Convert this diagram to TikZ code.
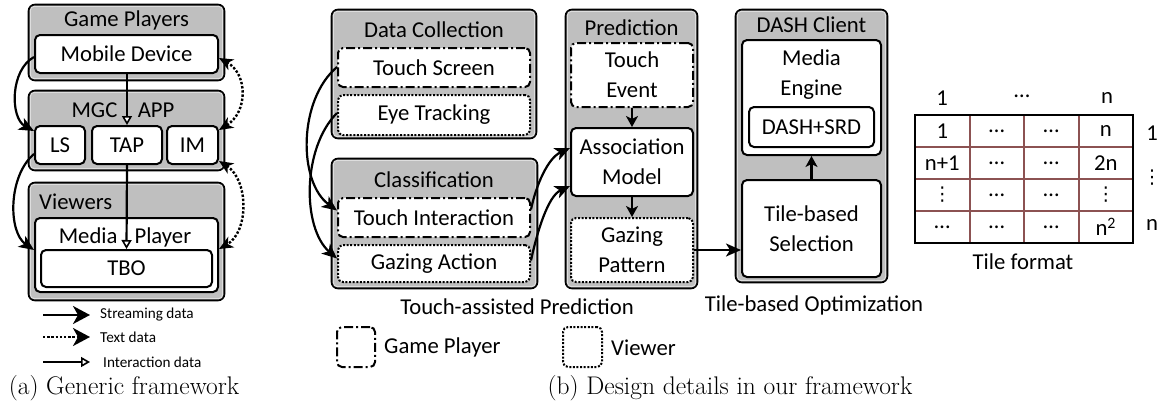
\documentclass[tikz,border=0pt]{standalone}
\usepackage{fontspec}
\newfontfamily\calfont{Carlito}
\newfontfamily\dotsfont{DejaVu Sans}
\usetikzlibrary{arrows.meta,calc}
\definecolor{boxgray}{RGB}{191,191,191}
\definecolor{rimgray}{RGB}{222,222,222}
\definecolor{gridbrown}{RGB}{140,82,82}
\newcommand{\figlbl}{\calfont\fontsize{22.7}{30}\selectfont}
\newcommand{\legfont}{\calfont\fontsize{15.2}{18}\selectfont}
\newcommand{\capfont}{\rmfamily\fontsize{25.5}{30}\selectfont}
\newcommand{\vdotchar}{{\dotsfont\fontsize{19}{20}\selectfont ⋮}}
\begin{document}
\begin{tikzpicture}[x=1pt,y=-1pt,
  outerbox/.style={draw, line width=2.6pt, rounded corners=6pt, fill=boxgray, inner sep=0pt},
  innerbox/.style={draw, line width=2pt, rounded corners=5pt, fill=white, inner sep=0pt, align=center, font=\figlbl},
  gpbox/.style={innerbox, dash pattern=on 9pt off 3pt on 2pt off 3pt},
  vwbox/.style={innerbox, dash pattern=on 2pt off 1.6pt},
  title/.style={inner sep=0pt, font=\figlbl, align=center},
  rim/.style={rimgray, line width=1.2pt, rounded corners=4pt},
  conn/.style={line width=2.2pt},
  stream/.style={conn, -{Stealth[length=15pt,width=13pt,inset=4pt]}},
  small/.style={conn, -{Stealth[length=11pt,width=12pt,inset=3pt]}},
  textarr/.style={line width=2.4pt, dash pattern=on 2.4pt off 1.8pt,
    {Stealth[length=14pt,width=12pt,inset=4pt]}-{Stealth[length=14pt,width=12pt,inset=4pt]}},
  interact/.style={conn, -{Triangle[length=9pt,width=10pt,fill=white,line width=1.6pt]}},
  leghead/.style={-{Stealth[length=17pt,width=18pt,inset=5pt]}},
]
\useasboundingbox (0,0) rectangle (1162,410);

% ---------------- (a) generic framework ----------------
\node[outerbox, minimum width=195pt, minimum height=75pt] (gpBox) at (126.5,42.5) {};
\node[outerbox, minimum width=195pt, minimum height=79pt] (mgcBox) at (126.5,130.5) {};
\node[outerbox, minimum width=195pt, minimum height=117pt] (vwBox) at (126.5,241.5) {};
% ---------------- (b) group boxes ----------------
\node[outerbox, minimum width=204pt, minimum height=128pt] (dcBox) at (434,74) {};
\node[outerbox, minimum width=205pt, minimum height=129pt] (clBox) at (434.5,223.5) {};
\node[outerbox, minimum width=131pt, minimum height=278pt] (predBox) at (631.5,149) {};
\node[outerbox, minimum width=151pt, minimum height=272pt] (dashBox) at (811.5,146) {};
% light rim just inside every group border
\foreach \b in {gpBox,mgcBox,vwBox,dcBox,clBox,predBox,dashBox}
  \draw[rim] ($(\b.north west)+(2.6,2.6)$) rectangle ($(\b.south east)+(-2.6,-2.6)$);

\node[title] (gpTitle) at (126.5,20) {Game Players};
\node[innerbox, minimum width=183pt, minimum height=38pt] (mobile) at (126.5,54) {Mobile Device};

\node[title] (mgcTitle) at (123,110) {MGC\hspace{0.9em}APP};
\node[innerbox, minimum width=50pt, minimum height=38pt] (LS) at (60,145) {LS};
\node[innerbox, minimum width=70pt, minimum height=38pt] (TAP) at (127,145) {TAP};
\node[innerbox, minimum width=51pt, minimum height=38pt] (IM) at (192.5,145) {IM};

\node[title, anchor=west] (vwTitle) at (39,202) {Viewers};
\node[innerbox, minimum width=183pt, minimum height=74pt] (mediaPlayer) at (126.5,255) {};
\node[title] (mpTitle) at (125,237) {Media\hspace{0.75em}Player};
\node[innerbox, minimum width=171pt, minimum height=37pt] (TBO) at (126.5,268.5) {TBO};

\draw[interact] (mobile.south -| TAP.north) -- (TAP.north);
\draw[interact] (TAP.south) -- (TBO.north);
\draw[stream] ($(mobile.west)+(0,3)$) .. controls (10,70) and (10,118) .. ($(LS.west)+(0,-14)$);
\draw[stream] ($(LS.west)+(0,9)$) .. controls (8,176) and (8,232) .. ($(mediaPlayer.west)+(0,-5)$);
\draw[textarr] ($(IM.east)+(0,-15)$) .. controls (248,112) and (248,74) .. ($(mobile.east)+(0,4)$);
\draw[textarr] ($(IM.east)+(0,16)$) .. controls (249,180) and (249,232) .. ($(mediaPlayer.east)+(0,-6)$);

% legend of (a)
\coordinate (la1) at (43,315); \coordinate (lb1) at (90,315);
\coordinate (la2) at (43,337); \coordinate (lb2) at (90,337);
\coordinate (la3) at (43,362); \coordinate (lb3) at (90,362);
\draw[conn, leghead] (la1) -- (lb1);
\draw[line width=2.4pt, dash pattern=on 2.4pt off 1.8pt, leghead] (la2) -- (lb2);
\draw[interact] (la3) -- (lb3);
\node[anchor=west, inner sep=0pt, font=\legfont] (lt1) at (100,315) {Streaming data};
\node[anchor=west, inner sep=0pt, font=\legfont] (lt2) at (100,337) {Text data};
\node[anchor=west, inner sep=0pt, font=\legfont] (lt3) at (103,362) {Interaction data};

\node[inner sep=0pt, font=\capfont] (capA) at (124,388) {(a) Generic framework};

% ---------------- (b) design details ----------------
\node[title] (dcTitle) at (434,30) {Data Collection};
\node[gpbox, minimum width=192pt, minimum height=39pt] (touchScreen) at (434,67.5) {Touch Screen};
\node[vwbox, minimum width=192pt, minimum height=40pt] (eyeTracking) at (434,115) {Eye Tracking};

\node[title] (clTitle) at (434,180) {Classification};
\node[gpbox, minimum width=192pt, minimum height=39pt] (touchInter) at (434,217.5) {Touch Interaction};
\node[vwbox, minimum width=192pt, minimum height=37pt] (gazingAction) at (434,263.5) {Gazing Action};

\node[title] (predTitle) at (631.5,28) {Prediction};
\node[gpbox, minimum width=122pt, minimum height=64pt] (touchEvent) at (632,75) {Touch\\Event};
\node[innerbox, minimum width=122pt, minimum height=68pt] (assoc) at (632,162) {Association\\Model};
\node[vwbox, minimum width=122pt, minimum height=64pt] (gazPattern) at (632,250) {Gazing\\Pattern};

\node[title] (dashTitle) at (811.5,25) {DASH Client};
\node[innerbox, minimum width=139pt, minimum height=115pt] (mediaEngine) at (811.5,97.5) {};
\node[title] (meTitle) at (811.5,74.5) {Media\\Engine};
\node[innerbox, minimum width=125pt, minimum height=40pt] (dashSrd) at (811.5,127) {DASH+SRD};
\node[innerbox, minimum width=139pt, minimum height=97pt] (tileSel) at (811.5,228.5) {Tile-based\\Selection};

\draw[small] (touchEvent.south) -- (assoc.north);
\draw[small] (assoc.south) -- (gazPattern.north);
\draw[small] (tileSel.north) -- (mediaEngine.south);
\draw[stream] (gazPattern.east) -- (gazPattern.east -| tileSel.west);

\draw[stream] ($(touchScreen.west)+(0,-0.5)$) .. controls (298,100) and (298,182) .. ($(touchInter.west)+(0,-7)$);
\draw[stream] ($(eyeTracking.west)+(0,-2)$) .. controls (302,148) and (302,228) .. ($(gazingAction.west)+(0,-5)$);
\draw[stream] ($(touchInter.east)+(0,-8)$) .. controls (536,185) and (548,158) .. ($(assoc.west)+(0,-14)$);
\draw[stream] ($(gazingAction.east)+(0,-3)$) .. controls (537,232) and (548,196) .. ($(assoc.west)+(0,24)$);

\node[title] (tapLbl) at (517,307) {Touch-assisted Prediction};
\node[title] (tboLbl) at (814,305) {Tile-based Optimization};

% legend of (b)
\node[gpbox, fill=none, minimum width=38pt, minimum height=40pt] (legGP) at (356,347) {};
\node[title, anchor=west] (legGPt) at (384,347) {Game Player};
\node[vwbox, fill=none, minimum width=39pt, minimum height=40pt] (legVW) at (582.5,347) {};
\node[title, anchor=west] (legVWt) at (611,348) {Viewer};

\node[inner sep=0pt, font=\capfont] (capB) at (730,388) {(b) Design details in our framework};

% ---------------- tile format ----------------
\foreach \i in {1,2,3} {
  \draw[gridbrown, line width=2pt] ({915+54.5*\i},115) -- ({915+54.5*\i},243);
  \draw[gridbrown, line width=2pt] (915,{115+32*\i}) -- (1133,{115+32*\i});
}
\node[draw, line width=2.6pt, minimum width=218pt, minimum height=128pt, inner sep=0pt] (tileGrid) at (1024,179) {};

\node[title] (c11) at (942.25,131) {1};
\node[title] (c12) at (996.75,131) {…};
\node[title] (c13) at (1051.25,131) {…};
\node[title] (c14) at (1105.75,131) {n};
\node[title] (c21) at (942.25,163) {n+1};
\node[title] (c22) at (996.75,163) {…};
\node[title] (c23) at (1051.25,163) {…};
\node[title] (c24) at (1105.75,163) {2n};
\node[title] (c31) at (942.25,195) {\vdotchar};
\node[title] (c32) at (996.75,195) {…};
\node[title] (c33) at (1051.25,195) {…};
\node[title] (c34) at (1105.75,195) {\vdotchar};
\node[title] (c41) at (942.25,227) {…};
\node[title] (c42) at (996.75,227) {…};
\node[title] (c43) at (1051.25,227) {…};
\node[title] (c44) at (1105.75,227) {n\textsuperscript{2}};

\node[title] (top1) at (942,98) {1};
\node[title] (topd) at (1022,96) {…};
\node[title] (topn) at (1107,98) {n};
\node[title] (rgt1) at (1152,133) {1};
\node[title] (rgtd) at (1152,178) {\vdotchar};
\node[title] (rgtn) at (1152,225) {n};
\node[title] (tileFmt) at (1023,262) {Tile format};
\end{tikzpicture}
\end{document}
